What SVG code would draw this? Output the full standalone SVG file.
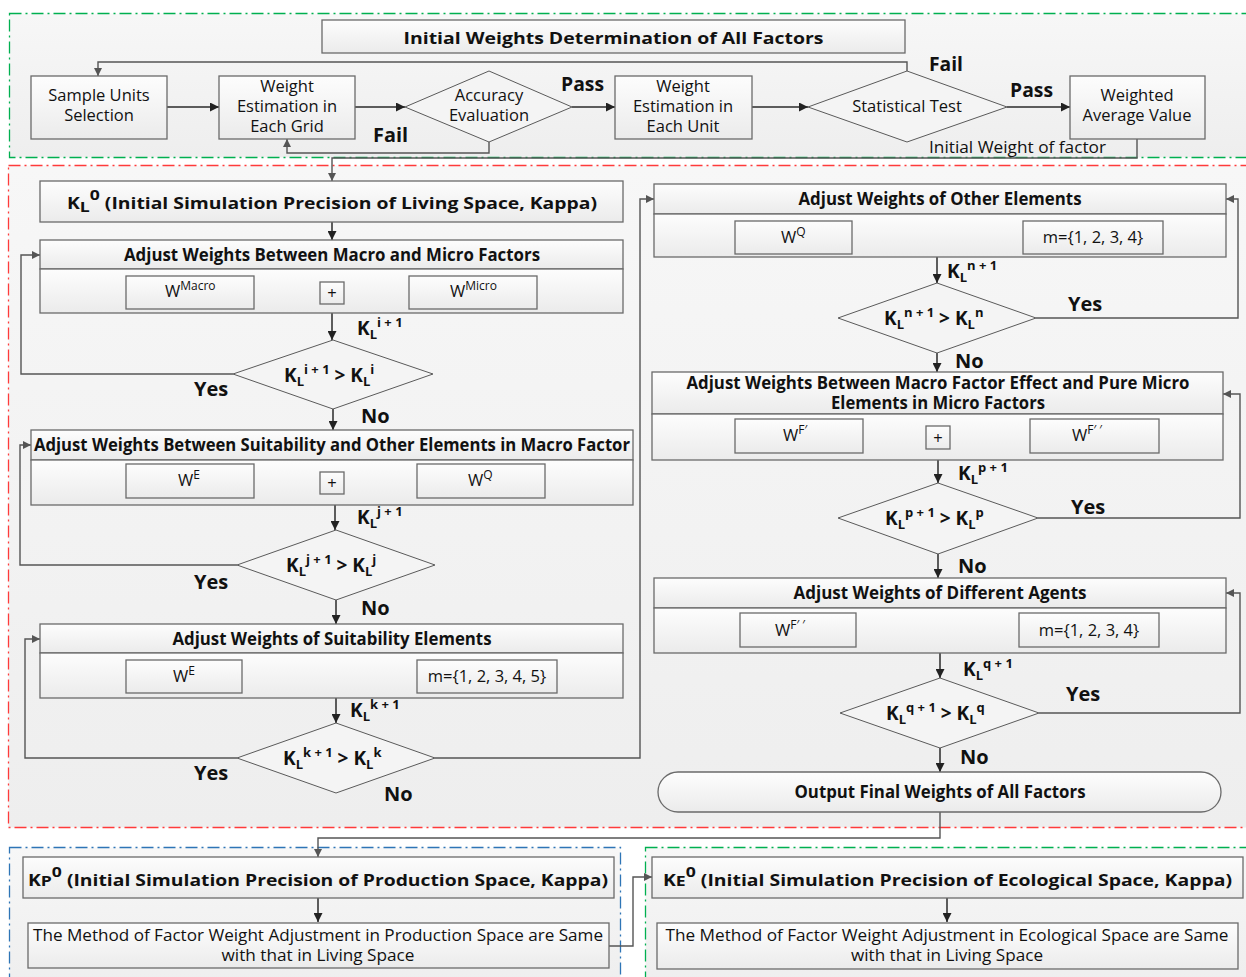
<svg xmlns="http://www.w3.org/2000/svg" width="1246" height="977" viewBox="0 0 1246 977">
<defs>
<linearGradient id="g" x1="0" y1="0" x2="0" y2="1"><stop offset="0" stop-color="#fdfdfd"/><stop offset="1" stop-color="#ebebeb"/></linearGradient>
<linearGradient id="bg" x1="0" y1="0" x2="0" y2="1"><stop offset="0" stop-color="#f7f7f7"/><stop offset="1" stop-color="#eeeeee"/></linearGradient>
<marker id="a" viewBox="0 0 10 10" refX="10" refY="5" markerWidth="9" markerHeight="9" orient="auto" markerUnits="userSpaceOnUse"><path d="M0,0 L10,5 L0,10 z" fill="#222"/></marker>
<marker id="ag" viewBox="0 0 10 10" refX="10" refY="5" markerWidth="8" markerHeight="8" orient="auto" markerUnits="userSpaceOnUse"><path d="M0,0 L10,5 L0,10 z" fill="#555"/></marker>
</defs>
<style>
.box{fill:url(#g);stroke:#6a6a6a;stroke-width:1.3}
.dia{fill:#f4f4f4;stroke:#5a5a5a;stroke-width:1}
.c{fill:none;stroke:#2a2a2a;stroke-width:1.5;marker-end:url(#a)}
.cg{fill:none;stroke:#555;stroke-width:1.4;marker-end:url(#ag)}
.t{font-family:"Open Sans","Noto Sans",sans-serif;fill:#111;font-size:16.5px}
.m{text-anchor:middle}
.b{font-weight:bold}
.h{font-weight:bold;font-size:18px;text-anchor:middle}
.k{font-weight:bold;font-size:19px}
.s{font-size:12px}
.lbl{font-weight:bold;font-size:20px}
.sec{fill:url(#bg);stroke-width:1.3;stroke-dasharray:12 4 2 4}
</style>
<rect width="1246" height="977" fill="#ffffff"/>
<!-- sections -->
<rect class="sec" x="9.5" y="13.5" width="1240" height="144" stroke="#00b050"/>
<rect class="sec" x="8.5" y="165.5" width="1240" height="662" stroke="#ff3b3b"/>
<rect class="sec" x="9.5" y="847.5" width="611" height="140" stroke="#2e75b6"/>
<rect class="sec" x="645.5" y="847.5" width="610" height="140" stroke="#00b050"/>

<!-- connectors -->
<g id="connectors">
<path class="c" d="M167,107 H219"/>
<path class="c" d="M355,107 H405"/>
<path class="c" d="M572,107 H615"/>
<path class="c" d="M752,107 H808"/>
<path class="c" d="M1007,107 H1070"/>
<path class="cg" d="M489,142 V153 H287 V139"/>
<path class="cg" d="M907,71 V62 H98 V76"/>
<path class="cg" d="M1137,139 V158 H332 V181"/>
<path class="c" d="M332,222 V240"/>
<path class="c" d="M332,313 V340"/>
<path class="cg" d="M233,374 H21 V255 H40"/>
<path class="c" d="M333,409 V430"/>
<path class="c" d="M335,505 V530"/>
<path class="cg" d="M237,565 H20 V445 H31"/>
<path class="c" d="M336,600 V624"/>
<path class="c" d="M242,676 H417"/>
<path class="c" d="M336,698 V723"/>
<path class="cg" d="M237,758 H25 V639 H40"/>
<path class="cg" d="M435,758 H640 V199 H654"/>
<path class="c" d="M852,238 H1023"/>
<path class="c" d="M937,257 V283"/>
<path class="cg" d="M1036,318 H1238 V199 H1226"/>
<path class="c" d="M937,353 V372"/>
<path class="c" d="M938,460 V483"/>
<path class="cg" d="M1038,518 H1240 V394 H1223"/>
<path class="c" d="M938,554 V578"/>
<path class="c" d="M856,630 H1019"/>
<path class="c" d="M940,653 V678"/>
<path class="cg" d="M1039,713 H1240 V593 H1226"/>
<path class="c" d="M940,748 V772"/>
<path class="cg" d="M940,812 V838 H318 V857"/>
<path class="c" d="M318,898 V922"/>
<path class="cg" d="M609,946 H633 V877 H652"/>
<path class="c" d="M947,898 V922"/>
</g>

<!-- top section -->
<g id="title">
<rect class="box" x="322" y="20" width="583" height="33"/>
<text class="t b m" x="613.5" y="44" font-size="21.5" textLength="420" lengthAdjust="spacingAndGlyphs">Initial Weights Determination of All Factors</text>
</g>
<g id="sample">
<rect class="box" x="31" y="76" width="136" height="63"/>
<text class="t m" x="99" y="101">Sample Units</text>
<text class="t m" x="99" y="121">Selection</text>
</g>
<g id="grid">
<rect class="box" x="219" y="76" width="136" height="63"/>
<text class="t m" x="287" y="92">Weight</text>
<text class="t m" x="287" y="112">Estimation in</text>
<text class="t m" x="287" y="132">Each Grid</text>
</g>
<g id="accuracy">
<polygon class="dia" points="405,107 489,71 572,107 489,142"/>
<text class="t m" x="489" y="101">Accuracy</text>
<text class="t m" x="489" y="121">Evaluation</text>
</g>
<text class="t lbl" x="561" y="91" textLength="43" lengthAdjust="spacingAndGlyphs">Pass</text>
<text class="t lbl" x="373" y="142" textLength="35" lengthAdjust="spacingAndGlyphs">Fail</text>
<g id="unit">
<rect class="box" x="615" y="76" width="137" height="63"/>
<text class="t m" x="683" y="92">Weight</text>
<text class="t m" x="683" y="112">Estimation in</text>
<text class="t m" x="683" y="132">Each Unit</text>
</g>
<g id="stat">
<polygon class="dia" points="808,107 907,71 1007,107 907,142"/>
<text class="t m" x="907" y="112">Statistical Test</text>
</g>
<text class="t lbl" x="929" y="71" textLength="34" lengthAdjust="spacingAndGlyphs">Fail</text>
<text class="t lbl" x="1010" y="97" textLength="43" lengthAdjust="spacingAndGlyphs">Pass</text>
<g id="weighted">
<rect class="box" x="1070" y="76" width="135" height="63"/>
<text class="t m" x="1137" y="101">Weighted</text>
<text class="t m" x="1137" y="121">Average Value</text>
</g>
<text class="t" x="929" y="153" textLength="177" lengthAdjust="spacingAndGlyphs">Initial Weight of factor</text>

<!-- left column -->
<g id="kl0">
<rect class="box" x="40" y="181" width="583" height="41"/>
<text class="t b" x="67" y="209" font-size="23" textLength="530" lengthAdjust="spacingAndGlyphs">K<tspan font-size="15" dy="3">L</tspan><tspan font-size="15" dy="-12">0</tspan><tspan dy="9"> (Initial Simulation Precision of Living Space, Kappa)</tspan></text>
</g>
<g id="b1">
<rect class="box" x="40" y="240" width="583" height="29"/>
<rect class="box" x="40" y="269" width="583" height="44"/>
<text class="t h" x="332" y="261" textLength="416" lengthAdjust="spacingAndGlyphs">Adjust Weights Between Macro and Micro Factors</text>
<rect class="box" x="126" y="276" width="128" height="33"/>
<text class="t" x="165" y="297" font-size="16">W<tspan class="s" dy="-7">Macro</tspan></text>
<rect class="box" x="320" y="282" width="24" height="22"/>
<text class="t m" x="332" y="299" font-size="18">+</text>
<rect class="box" x="409" y="276" width="128" height="33"/>
<text class="t" x="450" y="297" font-size="16">W<tspan class="s" dy="-7">Micro</tspan></text>
</g>
<text class="t k" x="357" y="335">K<tspan font-size="13" dy="4">L</tspan><tspan font-size="13" dy="-12">i + 1</tspan></text>
<g id="d1">
<polygon class="dia" points="233,374 333,340 433,374 333,409"/>
<text class="t k" x="284" y="382">K<tspan font-size="13" dy="4">L</tspan><tspan font-size="13" dy="-12">i + 1</tspan><tspan dy="8"> &gt; K</tspan><tspan font-size="13" dy="4">L</tspan><tspan font-size="13" dy="-12">i</tspan></text>
</g>
<text class="t lbl" x="194" y="396">Yes</text>
<text class="t lbl" x="361" y="423">No</text>

<g id="b2">
<rect class="box" x="31" y="430" width="602" height="30"/>
<rect class="box" x="31" y="460" width="602" height="45"/>
<text class="t h" x="332" y="451" textLength="596" lengthAdjust="spacingAndGlyphs">Adjust Weights Between Suitability and Other Elements in Macro Factor</text>
<rect class="box" x="126" y="464" width="128" height="34"/>
<text class="t" x="178" y="486" font-size="16">W<tspan class="s" dy="-7">E</tspan></text>
<rect class="box" x="320" y="472" width="24" height="22"/>
<text class="t m" x="332" y="489" font-size="18">+</text>
<rect class="box" x="417" y="464" width="128" height="34"/>
<text class="t" x="468" y="486" font-size="16">W<tspan class="s" dy="-7">Q</tspan></text>
</g>
<text class="t k" x="357" y="524">K<tspan font-size="13" dy="4">L</tspan><tspan font-size="13" dy="-12">j + 1</tspan></text>
<g id="d2">
<polygon class="dia" points="237,565 336,530 435,565 336,600"/>
<text class="t k" x="286" y="572">K<tspan font-size="13" dy="4">L</tspan><tspan font-size="13" dy="-12">j + 1</tspan><tspan dy="8"> &gt; K</tspan><tspan font-size="13" dy="4">L</tspan><tspan font-size="13" dy="-12">j</tspan></text>
</g>
<text class="t lbl" x="194" y="589">Yes</text>
<text class="t lbl" x="361" y="615">No</text>

<g id="b3">
<rect class="box" x="40" y="624" width="583" height="29"/>
<rect class="box" x="40" y="653" width="583" height="45"/>
<text class="t h" x="332" y="645" textLength="319" lengthAdjust="spacingAndGlyphs">Adjust Weights of Suitability Elements</text>
<rect class="box" x="126" y="660" width="116" height="33"/>
<text class="t" x="173" y="682" font-size="16">W<tspan class="s" dy="-7">E</tspan></text>
<rect class="box" x="417" y="660" width="140" height="33"/>
<text class="t m" x="487" y="682">m={1, 2, 3, 4, 5}</text>
</g>
<text class="t k" x="350" y="717">K<tspan font-size="13" dy="4">L</tspan><tspan font-size="13" dy="-12">k + 1</tspan></text>
<g id="d3">
<polygon class="dia" points="237,758 336,723 435,758 336,793"/>
<text class="t k" x="283" y="765">K<tspan font-size="13" dy="4">L</tspan><tspan font-size="13" dy="-12">k + 1</tspan><tspan dy="8"> &gt; K</tspan><tspan font-size="13" dy="4">L</tspan><tspan font-size="13" dy="-12">k</tspan></text>
</g>
<text class="t lbl" x="194" y="780">Yes</text>
<text class="t lbl" x="384" y="801">No</text>

<!-- right column -->
<g id="r1">
<rect class="box" x="654" y="184" width="572" height="30"/>
<rect class="box" x="654" y="214" width="572" height="43"/>
<text class="t h" x="940" y="205" textLength="283" lengthAdjust="spacingAndGlyphs">Adjust Weights of Other Elements</text>
<rect class="box" x="735" y="221" width="117" height="33"/>
<text class="t" x="781" y="243" font-size="16">W<tspan class="s" dy="-7">Q</tspan></text>
<rect class="box" x="1023" y="221" width="140" height="33"/>
<text class="t m" x="1093" y="243">m={1, 2, 3, 4}</text>
</g>
<text class="t k" x="947" y="278">K<tspan font-size="13" dy="4">L</tspan><tspan font-size="13" dy="-12">n + 1</tspan></text>
<g id="rd1">
<polygon class="dia" points="838,318 937,283 1036,318 937,353"/>
<text class="t k" x="884" y="325">K<tspan font-size="13" dy="4">L</tspan><tspan font-size="13" dy="-12">n + 1</tspan><tspan dy="8"> &gt; K</tspan><tspan font-size="13" dy="4">L</tspan><tspan font-size="13" dy="-12">n</tspan></text>
</g>
<text class="t lbl" x="1068" y="311">Yes</text>
<text class="t lbl" x="955" y="368">No</text>

<g id="r2">
<rect class="box" x="652" y="372" width="571" height="42"/>
<rect class="box" x="652" y="414" width="571" height="46"/>
<text class="t h" x="938" y="389" textLength="503" lengthAdjust="spacingAndGlyphs">Adjust Weights Between Macro Factor Effect and Pure Micro</text>
<text class="t h" x="938" y="409" textLength="214" lengthAdjust="spacingAndGlyphs">Elements in Micro Factors</text>
<rect class="box" x="735" y="419" width="128" height="34"/>
<text class="t" x="783" y="441" font-size="16">W<tspan class="s" dy="-7">F′</tspan></text>
<rect class="box" x="926" y="426" width="24" height="23"/>
<text class="t m" x="938" y="444" font-size="18">+</text>
<rect class="box" x="1030" y="419" width="129" height="34"/>
<text class="t" x="1072" y="441" font-size="16">W<tspan class="s" dy="-7">F′ ′</tspan></text>
</g>
<text class="t k" x="958" y="480">K<tspan font-size="13" dy="4">L</tspan><tspan font-size="13" dy="-12">p + 1</tspan></text>
<g id="rd2">
<polygon class="dia" points="838,518 938,483 1038,518 938,554"/>
<text class="t k" x="885" y="525">K<tspan font-size="13" dy="4">L</tspan><tspan font-size="13" dy="-12">p + 1</tspan><tspan dy="8"> &gt; K</tspan><tspan font-size="13" dy="4">L</tspan><tspan font-size="13" dy="-12">p</tspan></text>
</g>
<text class="t lbl" x="1071" y="514">Yes</text>
<text class="t lbl" x="958" y="573">No</text>

<g id="r3">
<rect class="box" x="654" y="578" width="572" height="30"/>
<rect class="box" x="654" y="608" width="572" height="45"/>
<text class="t h" x="940" y="599" textLength="293" lengthAdjust="spacingAndGlyphs">Adjust Weights of Different Agents</text>
<rect class="box" x="740" y="613" width="116" height="34"/>
<text class="t" x="775" y="636" font-size="16">W<tspan class="s" dy="-7">F′ ′</tspan></text>
<rect class="box" x="1019" y="613" width="140" height="34"/>
<text class="t m" x="1089" y="636">m={1, 2, 3, 4}</text>
</g>
<text class="t k" x="963" y="676">K<tspan font-size="13" dy="4">L</tspan><tspan font-size="13" dy="-12">q + 1</tspan></text>
<g id="rd3">
<polygon class="dia" points="840,713 940,678 1039,713 940,748"/>
<text class="t k" x="886" y="720">K<tspan font-size="13" dy="4">L</tspan><tspan font-size="13" dy="-12">q + 1</tspan><tspan dy="8"> &gt; K</tspan><tspan font-size="13" dy="4">L</tspan><tspan font-size="13" dy="-12">q</tspan></text>
</g>
<text class="t lbl" x="1066" y="701">Yes</text>
<text class="t lbl" x="960" y="764">No</text>

<g id="output">
<rect class="box" x="658" y="772" width="563" height="40" rx="20" ry="20"/>
<text class="t h" x="940" y="798" textLength="291" lengthAdjust="spacingAndGlyphs">Output Final Weights of All Factors</text>
</g>

<!-- bottom -->
<g id="kp0">
<rect class="box" x="23" y="857" width="591" height="41"/>
<text class="t b" x="28" y="886" font-size="23" textLength="580" lengthAdjust="spacingAndGlyphs">K<tspan font-size="15" dy="0">P</tspan><tspan font-size="15" dy="-9">0</tspan><tspan dy="9"> (Initial Simulation Precision of Production Space, Kappa)</tspan></text>
</g>
<g id="prodmethod">
<rect class="box" x="28" y="923" width="581" height="45"/>
<text class="t m" x="318" y="941" textLength="570" lengthAdjust="spacingAndGlyphs">The Method of Factor Weight Adjustment in Production Space are Same</text>
<text class="t m" x="318" y="961" textLength="193" lengthAdjust="spacingAndGlyphs">with that in Living Space</text>
</g>
<g id="ke0">
<rect class="box" x="652" y="857" width="591" height="41"/>
<text class="t b" x="663" y="886" font-size="23" textLength="569" lengthAdjust="spacingAndGlyphs">K<tspan font-size="15" dy="0">E</tspan><tspan font-size="15" dy="-9">0</tspan><tspan dy="9"> (Initial Simulation Precision of Ecological Space, Kappa)</tspan></text>
</g>
<g id="ecomethod">
<rect class="box" x="657" y="923" width="581" height="46"/>
<text class="t m" x="947" y="941" textLength="563" lengthAdjust="spacingAndGlyphs">The Method of Factor Weight Adjustment in Ecological Space are Same</text>
<text class="t m" x="947" y="961" textLength="192" lengthAdjust="spacingAndGlyphs">with that in Living Space</text>
</g>
</svg>
